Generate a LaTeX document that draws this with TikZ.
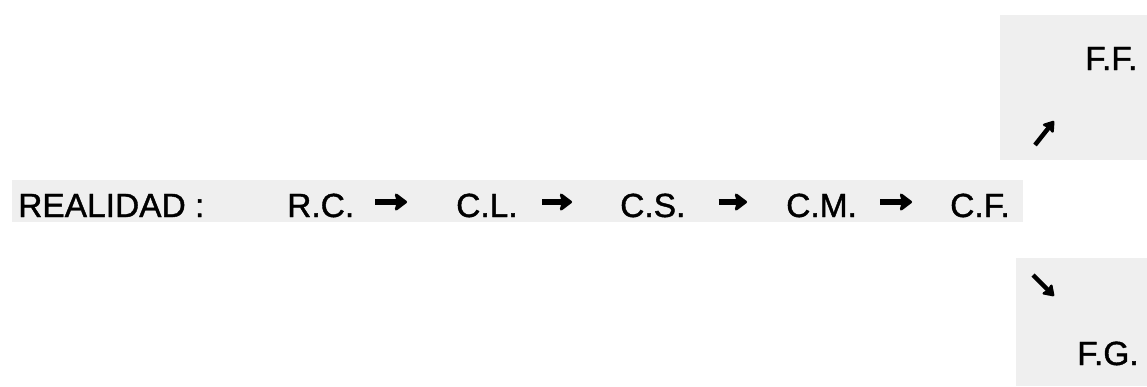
\documentclass[tikz,border=0pt]{standalone}
\usepackage{fontspec}
\setmainfont{Liberation Sans}[FakeBold=1.2]
\usetikzlibrary{arrows.meta}
\definecolor{scan}{HTML}{EFEFEF}
\tikzset{
  lbl/.style={anchor=base west, inner sep=0pt, text height=30pt, text depth=0pt,
              font=\fontsize{33.5}{40}\selectfont},
  bigarr/.style={line width=6.5pt, -{Stealth[length=14pt,width=21pt,inset=3pt,round]}},
  smallarr/.style={line width=4.5pt, -{Stealth[length=12pt,width=16pt,inset=2pt,round]}},
  patch/.style={fill=scan, draw=none}
}
\begin{document}
\begin{tikzpicture}[x=1pt,y=-1pt]
\useasboundingbox (0,0) rectangle (1147,386);
\fill[white] (0,0) rectangle (1147,386);
% scanned grey patches
\path[patch] (12,180) rectangle (1023,222);
\path[patch] (1000,15) rectangle (1147,160);
\path[patch] (1016,258) rectangle (1147,386);
% main row
\node[lbl] (real) at (18,217) {REALIDAD :};
\node[lbl] (rc) at (287,217) {R.C.};
\node[lbl] (cl) at (456,217) {C.L.};
\node[lbl] (cs) at (620,217) {C.S.};
\node[lbl] (cm) at (786,217) {C.M.};
\node[lbl] (cf) at (950,217) {C.F.};
\node[lbl] (ff) at (1085,70) {F.F.};
\node[lbl] (fg) at (1077,365) {F.G.};
% arrows of the main row
\draw[bigarr, shorten <=21pt, shorten >=49pt] (rc.east) -- (cl.west);
\draw[bigarr, shorten <=24.5pt, shorten >=48pt] (cl.east) -- (cs.west);
\draw[bigarr, shorten <=33pt, shorten >=39pt] (cs.east) -- (cm.west);
\draw[bigarr, shorten <=23pt, shorten >=38pt] (cm.east) -- (cf.west);
% branch arrows
\coordinate (up1) at (1035,145);
\coordinate (up2) at (1054,121);
\coordinate (dn1) at (1033,275);
\coordinate (dn2) at (1054,296);
\draw[smallarr] (up1) -- (up2);
\draw[smallarr] (dn1) -- (dn2);
\end{tikzpicture}
\end{document}
